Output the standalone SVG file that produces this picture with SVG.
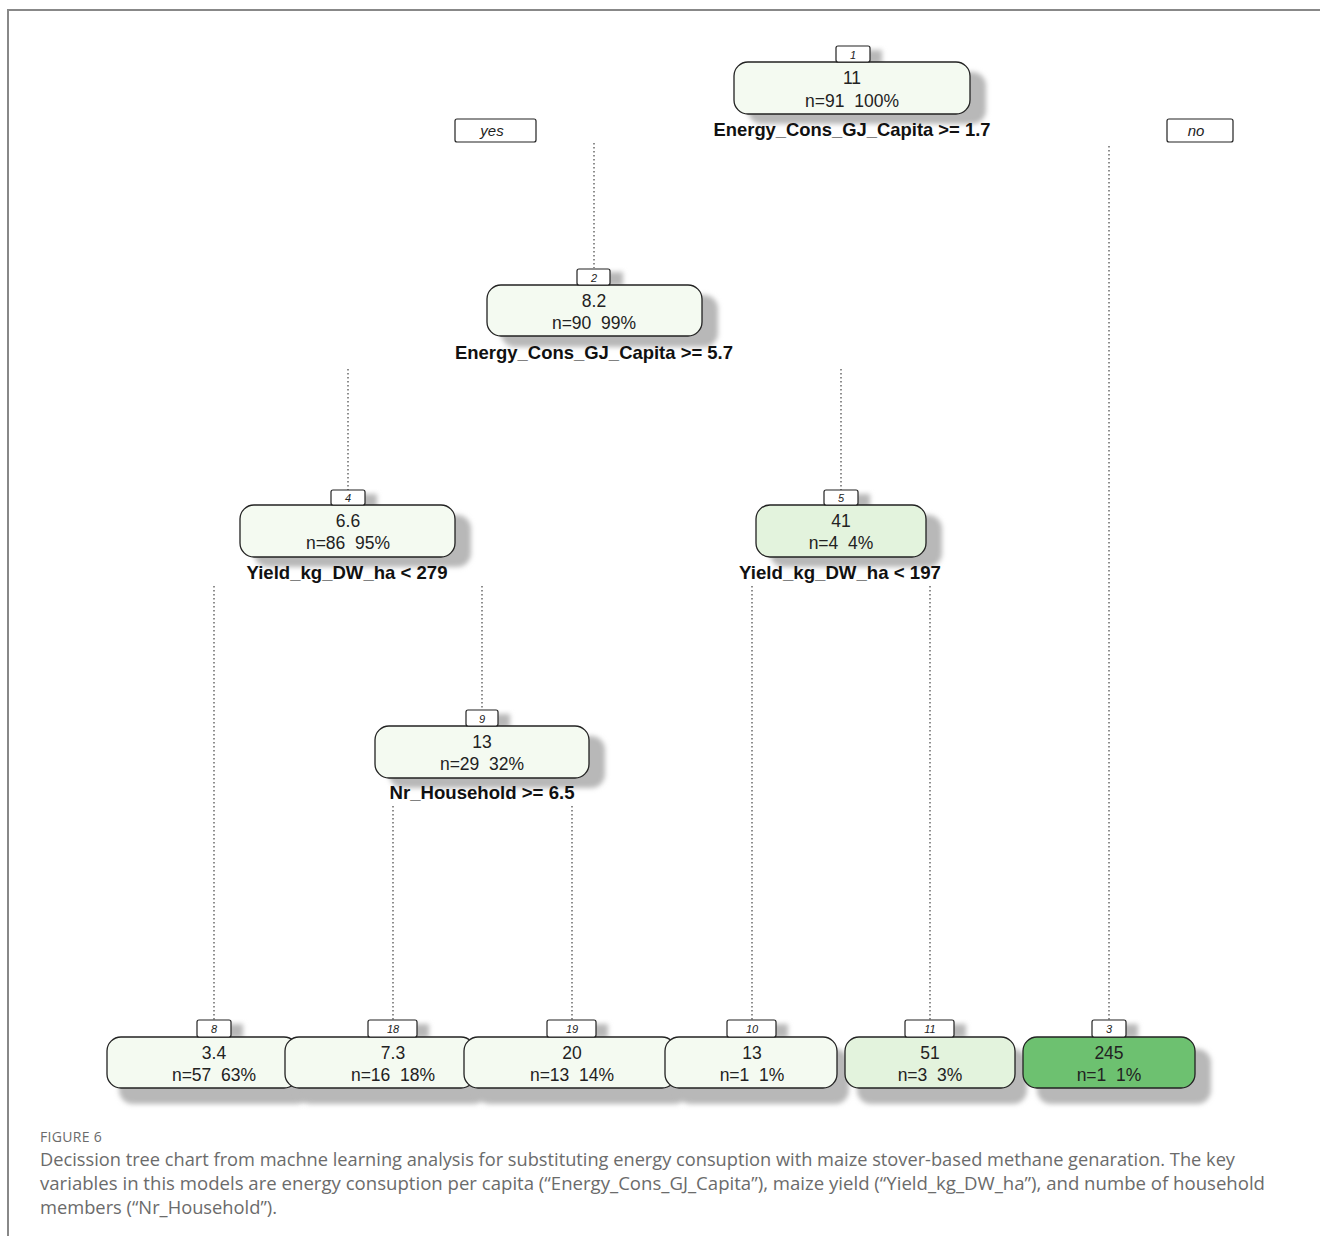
<svg xmlns="http://www.w3.org/2000/svg" width="1320" height="1236" viewBox="0 0 1320 1236">
<defs>
<filter id="sh" x="-10%" y="-30%" width="130%" height="180%"><feGaussianBlur stdDeviation="2.5"/></filter>
<style>
.frame{fill:none;stroke:#888;stroke-width:2}
.box{stroke:#222;stroke-width:1.3}
.lt{fill:#f4faf1}
.md{fill:#e3f3dd}
.dk{fill:#6dc170}
.shd{fill:#b8b8b8;filter:url(#sh)}
.tag{fill:#fff;stroke:#222;stroke-width:1.2}
.val{font-family:"Liberation Sans",Arial,sans-serif;font-size:17.5px;fill:#222;text-anchor:middle;white-space:pre}
.num{font-family:"Liberation Sans",Arial,sans-serif;font-size:11px;font-style:italic;fill:#222;text-anchor:middle}
.split{font-family:"Liberation Sans",Arial,sans-serif;font-size:18.5px;font-weight:bold;fill:#111;text-anchor:middle}
.yn{font-family:"Liberation Sans",Arial,sans-serif;font-size:15px;font-style:italic;fill:#222;text-anchor:middle}
.dot{stroke:#444;stroke-width:1.2;stroke-dasharray:1.5 2.5;fill:none}
.cap1{font-family:"Open Sans",Lato,sans-serif;font-size:14px;fill:#6b6b6b;letter-spacing:0.3px}
.cap{font-family:"Open Sans",Lato,sans-serif;font-size:18.3px;fill:#6b6b6b}
</style>
</defs>
<rect width="1320" height="1236" fill="#fff"/>
<path class="frame" d="M8 1236 V10 H1320"/>

<g id="connectors">
<line class="dot" x1="594" y1="143" x2="594" y2="268"/>
<line class="dot" x1="1109" y1="146" x2="1109" y2="1020"/>
<line class="dot" x1="348" y1="369" x2="348" y2="490"/>
<line class="dot" x1="841" y1="369" x2="841" y2="490"/>
<line class="dot" x1="214" y1="586" x2="214" y2="1020"/>
<line class="dot" x1="482" y1="586" x2="482" y2="710"/>
<line class="dot" x1="752" y1="586" x2="752" y2="1020"/>
<line class="dot" x1="930" y1="586" x2="930" y2="1020"/>
<line class="dot" x1="393" y1="806" x2="393" y2="1020"/>
<line class="dot" x1="572" y1="806" x2="572" y2="1020"/>
</g>

<g id="yes"><rect class="tag" x="455" y="119" width="81" height="23" rx="2"/><text class="yn" x="492" y="136">yes</text></g>
<g id="no"><rect class="tag" x="1167" y="119" width="66" height="23" rx="2"/><text class="yn" x="1196" y="136">no</text></g>

<g id="node1">
<rect class="shd" x="748" y="72" width="238" height="52" rx="14"/>
<rect class="shd" x="848" y="50" width="34" height="14"/>
<rect class="box lt" x="734" y="62" width="236" height="52" rx="14"/>
<rect class="tag" x="836" y="46" width="34" height="16" rx="2"/>
<text class="num" x="853" y="59">1</text>
<text class="val" x="852" y="84">11</text>
<text class="val" x="852" y="107" xml:space="preserve">n=91  100%</text>
<text class="split" x="852" y="136" textLength="277" lengthAdjust="spacingAndGlyphs">Energy_Cons_GJ_Capita &gt;= 1.7</text>
</g>

<g id="node2">
<rect class="shd" x="501" y="295" width="217" height="52" rx="14"/>
<rect class="shd" x="589" y="272" width="34" height="14"/>
<rect class="box lt" x="487" y="285" width="215" height="51" rx="14"/>
<rect class="tag" x="577" y="269" width="33" height="16" rx="2"/>
<text class="num" x="594" y="282">2</text>
<text class="val" x="594" y="307">8.2</text>
<text class="val" x="594" y="329" xml:space="preserve">n=90  99%</text>
<text class="split" x="594" y="359" textLength="278" lengthAdjust="spacingAndGlyphs">Energy_Cons_GJ_Capita &gt;= 5.7</text>
</g>

<g id="node4">
<rect class="shd" x="254" y="515" width="217" height="52" rx="14"/>
<rect class="shd" x="343" y="494" width="34" height="14"/>
<rect class="box lt" x="240" y="505" width="215" height="52" rx="14"/>
<rect class="tag" x="331" y="490" width="34" height="15" rx="2"/>
<text class="num" x="348" y="502">4</text>
<text class="val" x="348" y="527">6.6</text>
<text class="val" x="348" y="549" xml:space="preserve">n=86  95%</text>
<text class="split" x="347" y="579" textLength="201" lengthAdjust="spacingAndGlyphs">Yield_kg_DW_ha &lt; 279</text>
</g>

<g id="node5">
<rect class="shd" x="770" y="515" width="172" height="52" rx="14"/>
<rect class="shd" x="836" y="494" width="34" height="14"/>
<rect class="box md" x="756" y="505" width="170" height="52" rx="14"/>
<rect class="tag" x="824" y="490" width="34" height="15" rx="2"/>
<text class="num" x="841" y="502">5</text>
<text class="val" x="841" y="527">41</text>
<text class="val" x="841" y="549" xml:space="preserve">n=4  4%</text>
<text class="split" x="840" y="579" textLength="202" lengthAdjust="spacingAndGlyphs">Yield_kg_DW_ha &lt; 197</text>
</g>

<g id="node9">
<rect class="shd" x="389" y="736" width="216" height="52" rx="14"/>
<rect class="shd" x="478" y="714" width="32" height="14"/>
<rect class="box lt" x="375" y="726" width="214" height="52" rx="14"/>
<rect class="tag" x="466" y="710" width="32" height="16" rx="2"/>
<text class="num" x="482" y="723">9</text>
<text class="val" x="482" y="748">13</text>
<text class="val" x="482" y="770" xml:space="preserve">n=29  32%</text>
<text class="split" x="482" y="799" textLength="185" lengthAdjust="spacingAndGlyphs">Nr_Household &gt;= 6.5</text>
</g>

<g id="leaf8">
<rect class="shd" x="119" y="1049" width="191" height="55" rx="14"/>
<rect class="shd" x="209" y="1024" width="34" height="14"/>
<rect class="box lt" x="107" y="1037" width="191" height="51" rx="14"/>
<rect class="tag" x="197" y="1020" width="34" height="17" rx="2"/>
<text class="num" x="214" y="1033">8</text>
<text class="val" x="214" y="1059">3.4</text>
<text class="val" x="214" y="1081" xml:space="preserve">n=57  63%</text>
</g>

<g id="leaf18">
<rect class="shd" x="297" y="1049" width="190" height="55" rx="14"/>
<rect class="shd" x="380" y="1024" width="49" height="14"/>
<rect class="box lt" x="285" y="1037" width="190" height="51" rx="14"/>
<rect class="tag" x="368" y="1020" width="49" height="17" rx="2"/>
<text class="num" x="393" y="1033">18</text>
<text class="val" x="393" y="1059">7.3</text>
<text class="val" x="393" y="1081" xml:space="preserve">n=16  18%</text>
</g>

<g id="leaf19">
<rect class="shd" x="476" y="1049" width="212" height="55" rx="14"/>
<rect class="shd" x="559" y="1024" width="49" height="14"/>
<rect class="box lt" x="464" y="1037" width="212" height="51" rx="14"/>
<rect class="tag" x="547" y="1020" width="49" height="17" rx="2"/>
<text class="num" x="572" y="1033">19</text>
<text class="val" x="572" y="1059">20</text>
<text class="val" x="572" y="1081" xml:space="preserve">n=13  14%</text>
</g>

<g id="leaf10">
<rect class="shd" x="677" y="1049" width="172" height="55" rx="14"/>
<rect class="shd" x="739" y="1024" width="49" height="14"/>
<rect class="box lt" x="665" y="1037" width="172" height="51" rx="14"/>
<rect class="tag" x="727" y="1020" width="49" height="17" rx="2"/>
<text class="num" x="752" y="1033">10</text>
<text class="val" x="752" y="1059">13</text>
<text class="val" x="752" y="1081" xml:space="preserve">n=1  1%</text>
</g>

<g id="leaf11">
<rect class="shd" x="857" y="1049" width="170" height="55" rx="14"/>
<rect class="shd" x="917" y="1024" width="49" height="14"/>
<rect class="box md" x="845" y="1037" width="170" height="51" rx="14"/>
<rect class="tag" x="905" y="1020" width="49" height="17" rx="2"/>
<text class="num" x="930" y="1033">11</text>
<text class="val" x="930" y="1059">51</text>
<text class="val" x="930" y="1081" xml:space="preserve">n=3  3%</text>
</g>

<g id="leaf3">
<rect class="shd" x="1037" y="1049" width="174" height="55" rx="14"/>
<rect class="shd" x="1104" y="1024" width="34" height="14"/>
<rect class="box dk" x="1023" y="1037" width="172" height="51" rx="14"/>
<rect class="tag" x="1092" y="1020" width="34" height="17" rx="2"/>
<text class="num" x="1109" y="1033">3</text>
<text class="val" x="1109" y="1059">245</text>
<text class="val" x="1109" y="1081" xml:space="preserve">n=1  1%</text>
</g>

<g id="caption">
<text class="cap1" x="40" y="1142">FIGURE 6</text>
<text class="cap" x="40" y="1166" textLength="1195" lengthAdjust="spacingAndGlyphs">Decission tree chart from machne learning analysis for substituting energy consuption with maize stover-based methane genaration. The key</text>
<text class="cap" x="40" y="1190" textLength="1225" lengthAdjust="spacingAndGlyphs">variables in this models are energy consuption per capita (“Energy_Cons_GJ_Capita”), maize yield (“Yield_kg_DW_ha”), and numbe of household</text>
<text class="cap" x="40" y="1214" textLength="237" lengthAdjust="spacingAndGlyphs">members (“Nr_Household”).</text>
</g>
</svg>
